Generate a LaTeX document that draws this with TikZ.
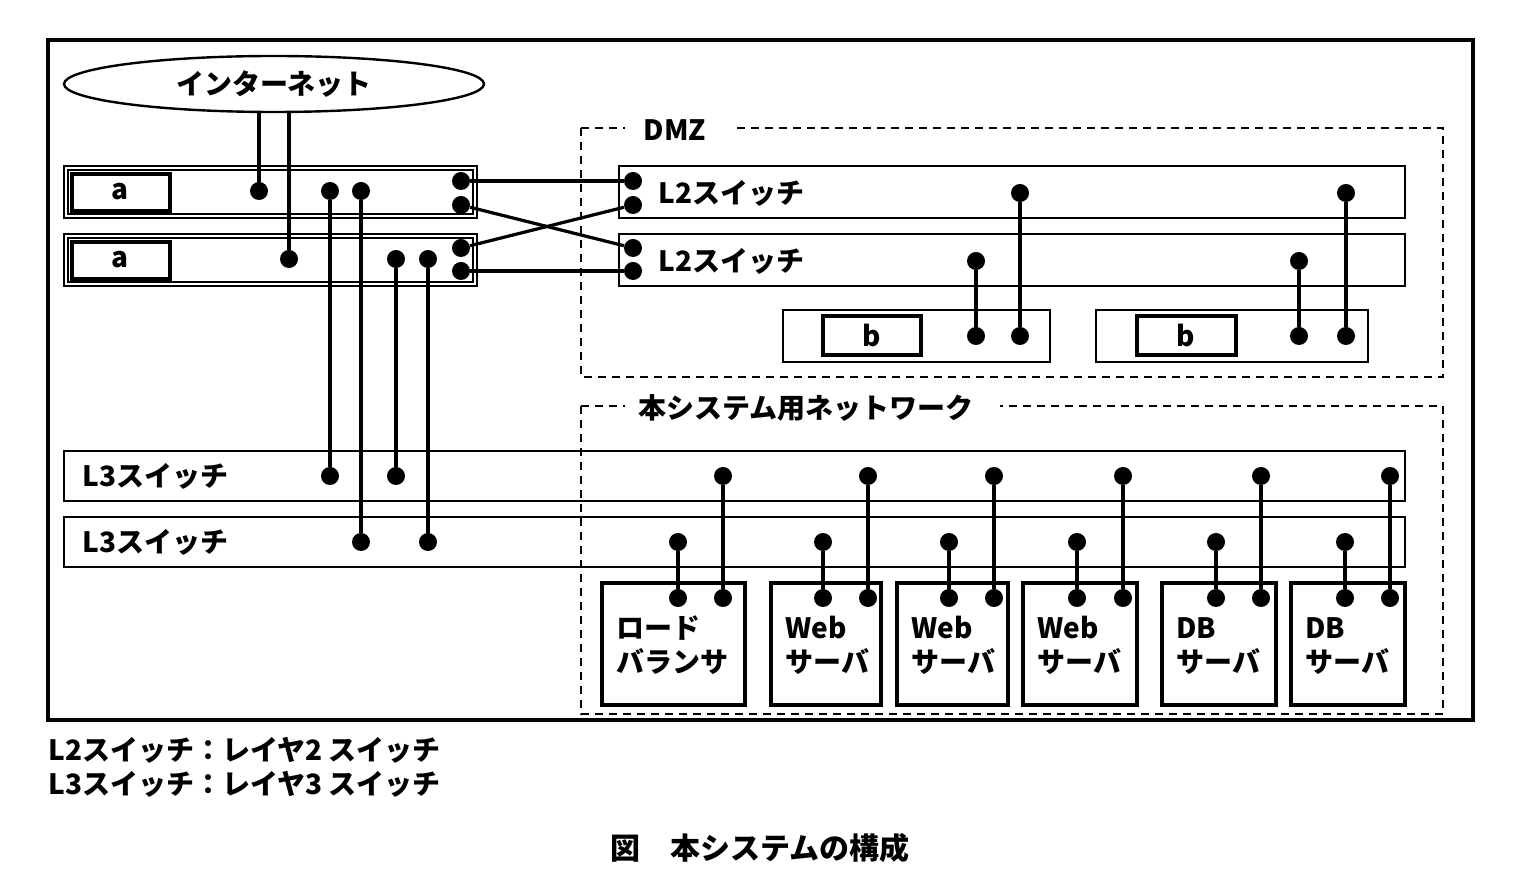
\documentclass[tikz,border=0pt]{standalone}
\usepackage{fontspec}
\newfontfamily\jp{Noto Sans CJK JP}
\usetikzlibrary{shapes.geometric}
\begin{document}
\begin{tikzpicture}[x=0.5pt,y=-0.5pt,
  box/.style={draw,line width=1.2pt},
  inbox/.style={draw,line width=2pt},
  dzone/.style={draw,line width=1.3pt,dash pattern=on 4pt off 3pt},
  wire/.style={line width=1.6pt},
  lbl/.style={font=\jp\bfseries\fontsize{14}{16}\selectfont,inner sep=0pt},
  dot/.style={circle,fill,inner sep=0pt,minimum size=9pt}]
\useasboundingbox (0,0) rectangle (1528,892);
\draw[line width=1.8pt] (48,40) rectangle (1473,720);
\node[draw,line width=1.2pt,ellipse,minimum width=210pt,minimum height=28pt,inner sep=0pt,lbl] (inet) at (274,84) {インターネット};
% routers a
\draw[box] (64,166) rectangle (477,218); \draw[box] (68,170) rectangle (473,214);
\draw[box] (64,234) rectangle (477,286); \draw[box] (68,238) rectangle (473,282);
\draw[inbox] (72,174) rectangle (170,211); \node[lbl] (a1) at (120,192) {a};
\draw[inbox] (72,242) rectangle (170,279); \node[lbl] (a2) at (120,260) {a};
% DMZ
\draw[dzone] (581,128) -- (581,377) -- (1443,377) -- (1443,128) -- (735,128);
\draw[dzone] (581,128) -- (625,128);
\node[lbl] (dmz) at (675,130) {DMZ};
\draw[box] (619,166) rectangle (1405,218); \node[lbl,anchor=west] (l21) at (658,193) {L2スイッチ};
\draw[box] (619,234) rectangle (1405,286); \node[lbl,anchor=west] (l22) at (658,261) {L2スイッチ};
\draw[box] (783,310) rectangle (1050,362); \draw[inbox] (823,316) rectangle (921,355); \node[lbl] (b1) at (872,336) {b};
\draw[box] (1096,310) rectangle (1368,362); \draw[inbox] (1137,316) rectangle (1236,355); \node[lbl] (b2) at (1186,336) {b};
% system network
\draw[dzone] (581,406) -- (581,714) -- (1443,714) -- (1443,406) -- (1000,406);
\draw[dzone] (581,406) -- (625,406);
\node[lbl] (sys) at (806,408) {本システム用ネットワーク};
\draw[box] (64,451) rectangle (1405,501); \node[lbl,anchor=west] (l31) at (82,476) {L3スイッチ};
\draw[box] (64,517) rectangle (1405,567); \node[lbl,anchor=west] (l32) at (82,542) {L3スイッチ};
% servers
\foreach \xa/\xb/\n/\ta/\tb in {602/745/s1/ロード/バランサ,771/881/s2/Web/サーバ,897/1008/s3/Web/サーバ,1023/1137/s4/Web/サーバ,1162/1276/s5/DB/サーバ,1291/1405/s6/DB/サーバ}{
  \draw[line width=1.8pt] (\xa,583) rectangle (\xb,705);
  \node[lbl,anchor=west] (\n a) at (\xa+14,628) {\ta};
  \node[lbl,anchor=west] (\n b) at (\xa+14,662) {\tb};
}
% dots
\foreach \nm/\x/\y in {ia/259/191,ib/289/259,p1/330/191,p2/361/191,p3/396/259,p4/428/259,
  q1/330/476,q2/361/542,q3/396/476,q4/428/542,
  r1/461/181,r2/461/205,r3/461/248,r4/461/271,
  t1/633/181,t2/633/205,t3/633/248,t4/633/271,
  u1/1020/193,u2/1346/193,u3/976/261,u4/1299/261,
  v1/1020/336,v2/1346/336,v3/976/336,v4/1299/336}{
  \node[dot] (\nm) at (\x,\y) {};
}
\foreach \k/\x in {1/723,2/868,3/994,4/1123,5/1261,6/1390}{
  \node[dot] (m\k) at (\x,476) {}; \node[dot] (n\k) at (\x,598) {};
  \draw[wire] (m\k) -- (n\k);
}
\foreach \k/\x in {1/678,2/823,3/949,4/1077,5/1216,6/1345}{
  \node[dot] (g\k) at (\x,542) {}; \node[dot] (h\k) at (\x,598) {};
  \draw[wire] (g\k) -- (h\k);
}
\coordinate (ea) at (259,112); \coordinate (eb) at (289,112);
\draw[wire] (ea) -- (ia); \draw[wire] (eb) -- (ib);
\draw[wire] (p1) -- (q1); \draw[wire] (p2) -- (q2); \draw[wire] (p3) -- (q3); \draw[wire] (p4) -- (q4);
\draw[wire] (r1) -- (t1); \draw[wire] (r2) -- (t3); \draw[wire] (r3) -- (t2); \draw[wire] (r4) -- (t4);
\draw[wire] (u1) -- (v1); \draw[wire] (u2) -- (v2); \draw[wire] (u3) -- (v3); \draw[wire] (u4) -- (v4);
% legend
\node[lbl,anchor=west] (lg1) at (48,750) {L2スイッチ：レイヤ2 スイッチ};
\node[lbl,anchor=west] (lg2) at (48,784) {L3スイッチ：レイヤ3 スイッチ};
\node[lbl,font=\jp\bfseries\fontsize{15}{17}\selectfont] (cap) at (760,848) {図\quad 本システムの構成};
\end{tikzpicture}
\end{document}
